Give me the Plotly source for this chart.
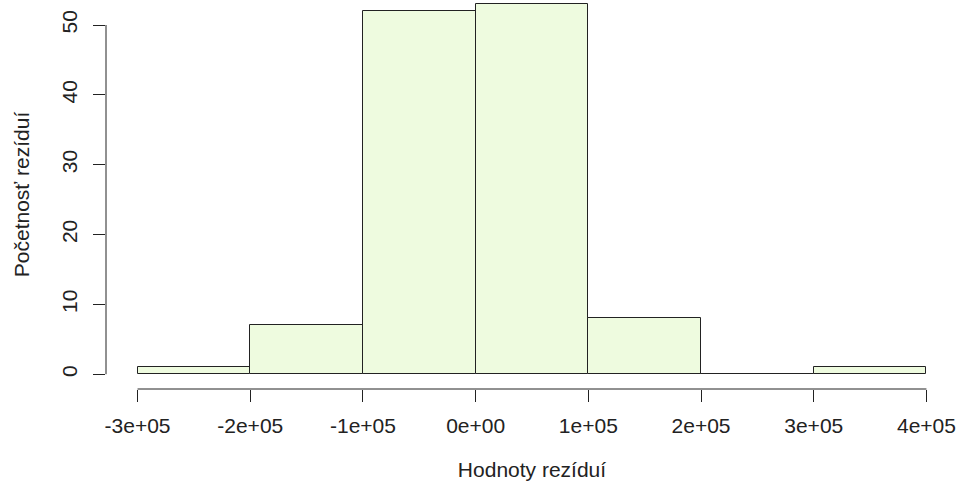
import plotly.graph_objects as go

bin_left = [-300000, -200000, -100000, 0, 100000, 200000, 300000]
counts = [1, 7, 52, 53, 8, 0, 1]
bin_width = 100000
x_ticks = [-300000, -200000, -100000, 0, 100000, 200000, 300000, 400000]
x_tick_labels = ["-3e+05", "-2e+05", "-1e+05", "0e+00", "1e+05", "2e+05", "3e+05", "4e+05"]
y_ticks = [0, 10, 20, 30, 40, 50]

centers = [b + bin_width / 2 for b in bin_left]

fig = go.Figure()
fig.add_trace(go.Bar(
    x=centers, y=counts, width=[bin_width] * len(counts),
    marker=dict(color="#eefbdf", line=dict(color="#222222", width=1)),
    showlegend=False, hoverinfo="x+y",
))

font = dict(family="Liberation Sans, Arial, sans-serif", size=21, color="#222222")

fig.update_layout(
    width=958, height=488,
    margin=dict(l=106, r=0, t=0, b=99),
    paper_bgcolor="white", plot_bgcolor="white",
    font=font,
    bargap=0,
    xaxis=dict(
        range=[-328000, 428000], tickmode="array", tickvals=x_ticks, ticktext=x_tick_labels,
        ticks="outside", ticklen=12, tickwidth=1, tickcolor="#222222",
        ticklabelstandoff=6,
        showgrid=False, zeroline=False, showline=False,
        title=dict(text="Hodnoty rezíduí", standoff=26, font=font),
    ),
    yaxis=dict(
        range=[-2.12, 53.58], tickmode="array", tickvals=y_ticks,
        ticks="outside", ticklen=12, tickwidth=1, tickcolor="#222222", tickangle=-90,
        ticklabelstandoff=8,
        showgrid=False, zeroline=False, showline=False,
        title=dict(text="Početnosť rezíduí", standoff=22, font=font),
    ),
)

# R-style axis lines spanning only the tick range
fig.add_shape(type="line", xref="x", yref="paper", x0=x_ticks[0], x1=x_ticks[-1], y0=0, y1=0,
              line=dict(color="#222222", width=1))
fig.add_shape(type="line", xref="paper", yref="y", x0=0, x1=0, y0=y_ticks[0], y1=y_ticks[-1],
              line=dict(color="#222222", width=1))

fig.write_html("out.html")
